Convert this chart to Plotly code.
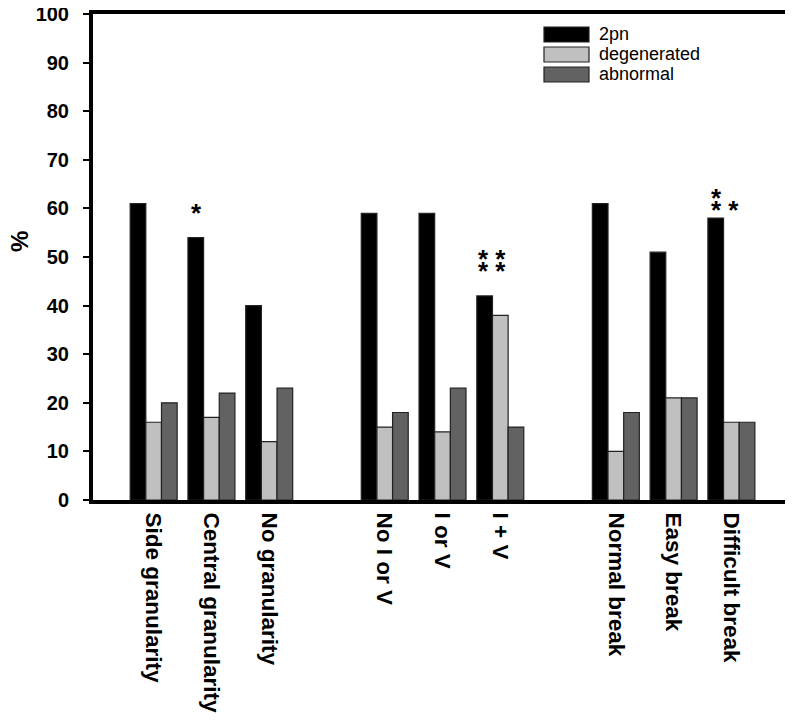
import plotly.graph_objects as go

categories = ["Side granularity", "Central granularity", "No granularity", " ",
              "No I or V", "I or V", "I + V", "  ",
              "Normal break", "Easy break", "Difficult break"]
series_names = ["2pn", "degenerated", "abnormal"]
v_2pn =         [61, 54, 40, None, 59, 59, 42, None, 61, 51, 58]
v_degenerated = [16, 17, 12, None, 15, 14, 38, None, 10, 21, 16]
v_abnormal =    [20, 22, 23, None, 18, 23, 15, None, 18, 21, 16]
colors = ["#000000", "#c0c0c0", "#626262"]
y_ticks = list(range(0, 101, 10))

# significance marks: category, height of the 2pn bar, rows of stars
star_cats = ["Central granularity", "I + V", "Difficult break"]
star_base = [54, 42, 58]
star_rows = [["*"], ["* *", "* *"], ["*", "* *"]]

FONT = "Liberation Sans"

# page body has an 8px margin; figure is sized to fill the rest of the window
W, H = 785, 712
ML, MR, MT, MB = 85, 5, 6, 220
PW, PH = W - ML - MR, H - MT - MB


def px(x):  # figure pixel -> paper x
    return (x - ML) / PW


def py(y):  # figure pixel -> paper y
    return (H - MB - y) / PH


fig = go.Figure()
for name, vals, col in zip(series_names, [v_2pn, v_degenerated, v_abnormal], colors):
    fig.add_trace(go.Bar(
        x=categories, y=vals, name=name,
        marker=dict(color=col, line=dict(color="#222222", width=1.2)),
    ))

star_xshift = [-15, -24, -22]
star_yshift = [8, 8, -9]
for i, (cat, yv, rows) in enumerate(zip(star_cats, star_base, star_rows)):
    txt = "<br>".join("<span style='font-size:26px'>%s</span>" % r for r in rows)
    fig.add_annotation(
        x=cat, y=yv, text=txt, showarrow=False, xref="x", yref="y",
        xanchor="left" if len(rows) > 1 else "center", yanchor="bottom",
        align="left", xshift=star_xshift[i], yshift=star_yshift[i],
        font=dict(family=FONT, size=9, color="black", weight="bold"),
    )

# legend drawn as wide swatches like the original
for i, (name, col) in enumerate(zip(series_names, colors)):
    top = 19 + 20 * i
    fig.add_shape(
        type="rect", xref="paper", yref="paper",
        x0=px(536), x1=px(581), y0=py(top), y1=py(top + 15),
        fillcolor=col, line=dict(color="#222222", width=1.2),
    )
    fig.add_annotation(
        xref="paper", yref="paper", x=px(589), y=py(top + 7),
        xanchor="left", yanchor="middle", showarrow=False, text=name,
        font=dict(family=FONT, size=18, color="black"),
    )

fig.add_annotation(
    xref="paper", yref="paper", x=px(11), y=py(234), textangle=-90,
    xanchor="center", yanchor="middle", showarrow=False, text="%",
    font=dict(family=FONT, size=24, color="black", weight="bold"),
)

fig.update_layout(
    width=W, height=H,
    margin=dict(l=ML, r=MR, t=MT, b=MB),
    plot_bgcolor="white", paper_bgcolor="white",
    barmode="group", bargap=0.187, bargroupgap=0,
    font=dict(family=FONT, color="black"),
    showlegend=False,
)
fig.update_xaxes(
    categoryorder="array", categoryarray=categories,
    range=[-1.05, 10.98], automargin=False,
    showline=True, linewidth=4, linecolor="black", mirror=True,
    ticks="", tickangle=90, ticklabelstandoff=4,
    ticklabeloverflow="allow",
    tickfont=dict(family=FONT, size=22.5, color="black", weight="bold"),
    showgrid=False, zeroline=False,
)
fig.update_yaxes(
    range=[0, 100], tickvals=y_ticks, automargin=False,
    showline=True, linewidth=4, linecolor="black", mirror=True,
    ticks="outside", ticklen=6, tickwidth=2, tickcolor="black",
    ticklabelstandoff=10, ticklabeloverflow="allow",
    tickfont=dict(family=FONT, size=20, color="black", weight="bold"),
    showgrid=False, zeroline=False,
)

fig.write_html("out.html")
